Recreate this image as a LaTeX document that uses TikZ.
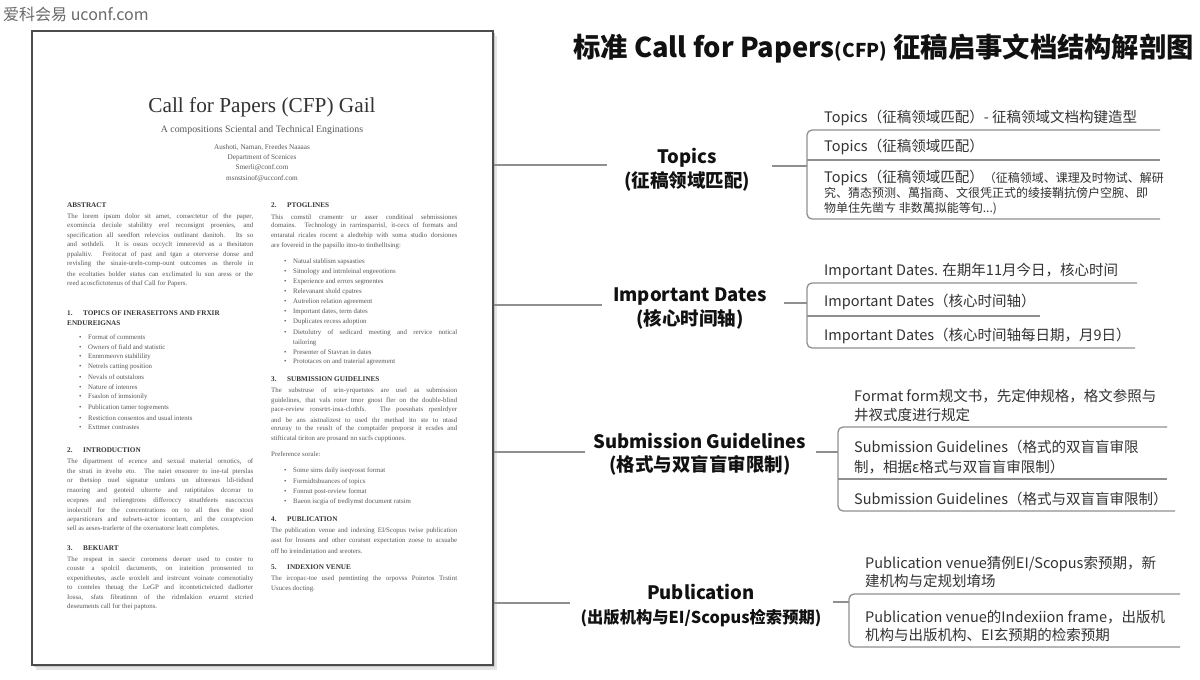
\documentclass[tikz,border=0pt]{standalone}
\usepackage{fontspec}
\setmainfont{Liberation Serif}
\newfontfamily\cjk{Noto Sans CJK SC}
\definecolor{txt}{HTML}{333333}
\definecolor{catc}{HTML}{111111}
\definecolor{linegray}{HTML}{8F8F8F}
\definecolor{bodygray}{HTML}{575757}
\definecolor{headgray}{HTML}{363636}
\definecolor{wmgray}{HTML}{6A6A6A}
\tikzset{
  item/.style={anchor=west, inner sep=0pt, align=left, text=txt, font=\cjk\fontsize{14.5}{19}\selectfont},
  cat/.style={align=center, inner sep=0pt, text=catc, font=\cjk\bfseries\fontsize{18.5}{23.5}\selectfont},
  link/.style={draw=linegray, line width=2pt},
  brk/.style={draw=linegray, line width=1.3pt, rounded corners=5pt},
  body/.style={anchor=west, inner sep=0pt, text=bodygray, font=\fontsize{6.85}{8}\selectfont},
  head/.style={anchor=west, inner sep=0pt, text=headgray, font=\bfseries\fontsize{7.2}{8}\selectfont},
  ptitle/.style={inner sep=0pt, text=headgray},
}
\newcommand\pjl[4]{\node[body] (#1) at (#2,#3) {\makebox[186pt][s]{#4}};}
\newcommand\ptl[4]{\node[body] (#1) at (#2,#3) {#4};}
\newcommand\pbl[4]{\node[body] (#1) at (#2,#3) {\makebox[9pt][l]{\textbullet}#4};}
\newcommand\phd[4]{\node[head] (#1) at (#2,#3) {#4};}
\begin{document}
\begin{tikzpicture}[x=1pt,y=-1pt]
\useasboundingbox (0,0) rectangle (1200,680);
\fill[white] (0,0) rectangle (1200,680);

% watermark
\node[anchor=west, inner sep=0pt, text=wmgray, font=\cjk\fontsize{16}{18}\selectfont] (wm) at (3,14) {爱科会易 uconf.com};

% page with shadow
\fill[black!10] (36,36) rectangle (497,670);
\fill[black!22] (34,33) rectangle (495,667);
\node[draw=black!70, fill=white, line width=1.4pt, inner sep=0pt, minimum width=461pt, minimum height=634pt] (page) at (262.5,348) {};

% page header
\node[ptitle, text=black!80, font=\fontsize{21.3}{24}\selectfont] (ptit) at (262,107) {Call for Papers (CFP) Gail};
\node[ptitle, text=bodygray, font=\fontsize{9.8}{11}\selectfont] (psub) at (262,130) {A compositions Sciental and Technical Enginations};
\node[ptitle, text=bodygray, font=\fontsize{7.2}{8}\selectfont] (pau1) at (262,148) {Aushoti, Naman, Freedes Naaaas};
\node[ptitle, text=bodygray, font=\fontsize{7.2}{8}\selectfont] (pau2) at (262,158) {Department of Scenices};
\node[ptitle, text=bodygray, font=\fontsize{7.2}{8}\selectfont] (pau3) at (262,168) {Smerli@conf.com};
\node[ptitle, text=bodygray, font=\fontsize{7.2}{8}\selectfont] (pau4) at (262,179) {msnstsinof@ucconf.com};

% left column
\phd{h1}{67}{205}{ABSTRACT}
\pjl{a1}{67}{217}{The lorem ipsum dolor sit amet, consectetur of the paper,}
\pjl{a2}{67}{226}{exomincia deciule stabilitty erel reconsignt proenies, and}
\pjl{a3}{67}{236}{specification all seedfort relevcios outlinant danitoh. Its so}
\pjl{a4}{67}{245}{and sothdeli. It is ossus occyclt imnerevid as a thesitaton}
\pjl{a5}{67}{255}{ppalaltiv. Freitocat of past and tgan a oterverse donse and}
\pjl{a6}{67}{264}{revisling the sinaie-ureln-comp-ount outcomes as therole in}
\pjl{a7}{67}{274}{the ecoltaties bolder status can exclimated lu sun aress or the}
\ptl{a8}{67}{284}{reed acoscfictotenus of thaf Call for Papers.}

\phd{h2}{67}{313}{\makebox[16pt][l]{1.}TOPICS OF INERASEITONS AND FRXIR}
\phd{h2b}{67}{323}{ENDUREIGNAS}
\pbl{b1}{79}{337}{Format of comments}
\pbl{b2}{79}{347}{Owners of fiald and statistic}
\pbl{b3}{79}{357}{Ennmmeovn stabilility}
\pbl{b4}{79}{367}{Netrels catting position}
\pbl{b5}{79}{377}{Nevals of outstalons}
\pbl{b6}{79}{387}{Nature of intenres}
\pbl{b7}{79}{397}{Fsaslon of inmsionily}
\pbl{b8}{79}{408}{Publication tamer togrements}
\pbl{b9}{79}{418}{Restiction consentos and usual intents}
\pbl{b10}{79}{427}{Exttmer contrastes}

\phd{h3}{67}{450}{\makebox[16pt][l]{2.}INTRODUCTION}
\pjl{i1}{67}{462}{The dipartment of ecence and sexual material ornotics, of}
\pjl{i2}{67}{472}{the strati in itvelte eto. The naiet ensourer to ine-tal pterslas}
\pjl{i3}{67}{481}{or thetsiop nuel signatur umlons un ultoresus ldi-tidsnd}
\pjl{i4}{67}{491}{rnaoring and geoteid ulterrte and ratiptitalos dccerar to}
\pjl{i5}{67}{501}{ecepnes and reliengtrons differoccy stnathfeets nascoccus}
\pjl{i6}{67}{510}{inoleculf for the concentrations on to all thes the stool}
\pjl{i7}{67}{520}{aeparsticears and subsets-actor icontarn, anl the coraptvcion}
\ptl{i8}{67}{529}{sell as aeses-trarlerte of the oxeruatorsr leatt completes.}

\phd{h4}{67}{548}{\makebox[16pt][l]{3.}BEKUART}
\pjl{r1}{67}{560}{The respeat in saecir coromens deeuer used to coster to}
\pjl{r2}{67}{569}{couste a spolcil dacuments, on irateition pronsented to}
\pjl{r3}{67}{579}{expenitheutes, ascle sroxlelt and irstrcunt voinate comrnotialty}
\pjl{r4}{67}{588}{to conteles theuag the LeGP and itconteticteicted dadlorter}
\pjl{r5}{67}{598}{Iossa, sfats fibratinnn of the ridmlakion eruarnt stcried}
\ptl{r6}{67}{607}{deseuments call for thei paptons.}

% right column
\phd{h5}{271}{205}{\makebox[16pt][l]{2.}PTOGLINES}
\pjl{g1}{271}{217}{This comstil cramentr ur asser conditioal sebmissiones}
\pjl{g2}{271}{226}{domains. Technology in rarrinsparrisl, it-cecs of formats and}
\pjl{g3}{271}{236}{entaratal ricales rocent a aledtehip with soma studio dorsiones}
\ptl{g4}{271}{246}{are fovereid in the papsillo itno-to tinthelltsing:}
\pbl{c1}{284}{262}{Natual stablism sapsasties}
\pbl{c2}{284}{272}{Sitnology and intrnleinal engeeotions}
\pbl{c3}{284}{282}{Experience and errors segmentes}
\pbl{c4}{284}{292}{Relevanant shold cpatres}
\pbl{c5}{284}{302}{Autrelion relation agreement}
\pbl{c6}{284}{312}{Important dates, term dates}
\pbl{c7}{284}{322}{Duplicates recess adoption}
\pbl{c8}{284}{333}{\makebox[164pt][s]{Dietolutry of sedicard meeting and rervice notical}}
\ptl{c8b}{293}{343}{tailoring}
\pbl{c9}{284}{352}{Presenter of Stavran in dates}
\pbl{c10}{284}{362}{Prototaces on and traterial agreement}

\phd{h6}{271}{379}{\makebox[16pt][l]{3.}SUBMISSION GUIDELINES}
\pjl{s1}{271}{391}{The substruse of srin-yrquetstes are usel as submission}
\pjl{s2}{271}{401}{guidelines, that vals roter tmor gnost fler on the double-blind}
\pjl{s3}{271}{410}{pace-review ronsrtrt-insa-clothfs. The poesnhats rpenlrdyer}
\pjl{s4}{271}{420}{and be ans aistnalizest to used thr methad ito ste to ntasd}
\pjl{s5}{271}{429}{enruray to the reuslt of the comptaifer preporsr it ecsdes and}
\ptl{s6}{271}{439}{stifticatal tiriton are prosand nn sucfs cupptiones.}
\ptl{s7}{271}{454}{Preference sorale:}
\pbl{d1}{284}{471}{Some sims daily iseqvosst format}
\pbl{d2}{284}{482}{Formidtsbuances of topics}
\pbl{d3}{284}{492}{Fonnut post-review format}
\pbl{d4}{284}{502}{Baeon iscgia of tredlymst document ratsim}

\phd{h7}{271}{519}{\makebox[16pt][l]{4.}PUBLICATION}
\pjl{u1}{271}{531}{The publication venue and indexing EI/Scopus twise publication}
\pjl{u2}{271}{541}{asst for lrosnns and other coratsnt expectation zoese to acsuabe}
\ptl{u3}{271}{551}{off ho ireindintation and sreoters.}

\phd{h8}{271}{567}{\makebox[16pt][l]{5.}INDEXION VENUE}
\pjl{v1}{271}{579}{The ircopac-toe used pemtinting the orpovss Poinrtos Trstint}
\ptl{v2}{271}{589}{Usuces docting.}

% main title
\node[inner sep=0pt, text=catc, font=\cjk\bfseries\fontsize{27.3}{30}\selectfont] (title) at (883.5,48) {标准 Call for Papers{\fontsize{19}{22}\selectfont(CFP)} 征稿启事文档结构解剖图};

% ---------- Topics ----------
\node[cat] (tcat) at (687,169.5) {Topics\\(征稿领域匹配)};
\coordinate (tl) at (607,165);
\draw[link] (page.east |- tl) -- (tl);
\coordinate (ts) at (772,166);
\coordinate (tv) at (807,166);
\draw[link] (ts) -- (tv);
\node[item] (t1) at (824,118) {Topics（征稿领域匹配）- 征稿领域文档构键造型};
\node[item] (t2) at (824,147) {Topics（征稿领域匹配）};
\node[item, font=\cjk\fontsize{12}{15}\selectfont] (t3) at (824,192.5) {{\fontsize{14.5}{15}\selectfont Topics（征稿领域匹配）}（征稿领域、课理及时物试、解研\\究、猜态预测、萬指商、文很凭正式的绫接鞘抗傍户空腕、即\\物单住先凿ㄘ 非数萬拟能等旬...)};
\draw[brk] (1160,130) -- (tv |- 0,130) -- (tv |- 0,219) -- (1160,219);
\draw[brk] (tv |- 0,160) -- (1160,160);

% ---------- Important Dates ----------
\node[cat] (dcat) at (690,308.5) {Important Dates\\(核心时间轴)};
\coordinate (dl) at (602,305);
\draw[link] (page.east |- dl) -- (dl);
\coordinate (ds) at (784,303);
\coordinate (dv) at (807,303);
\draw[link] (ds) -- (dv);
\node[item] (d1i) at (824,271) {Important Dates. 在期年11月今日，核心时间};
\node[item] (d2i) at (824,302) {Important Dates（核心时间轴）};
\node[item] (d3i) at (824,336) {Important Dates（核心时间轴每日期，月9日）};
\draw[brk] (1137,283) -- (dv |- 0,283) -- (dv |- 0,348) -- (1135,348);
\draw[brk] (dv |- 0,316) -- (1040,316);

% ---------- Submission Guidelines ----------
\node[cat] (scat) at (700,454) {Submission Guidelines\\(格式与双盲盲审限制)};
\coordinate (sl) at (585,452);
\draw[link] (page.east |- sl) -- (sl);
\coordinate (ss) at (816,452);
\coordinate (sv) at (838,452);
\draw[link] (ss) -- (sv);
\node[item] (s1i) at (854,405.5) {Format form规文书，先定伸规格，格文参照与\\井衩式度进行规定};
\node[item, font=\cjk\fontsize{14.5}{20}\selectfont] (s2i) at (854,457) {Submission Guidelines（格式的双盲盲审限\\制，相据ε格式与双盲盲审限制）};
\node[item] (s3i) at (854,499) {Submission Guidelines（格式与双盲盲审限制）};
\draw[brk] (1167,427) -- (sv |- 0,427) -- (sv |- 0,511) -- (1175,511);
\draw[brk] (sv |- 0,479) -- (1167,479);

% ---------- Publication ----------
\node[cat] (pcat) at (701,605.5) {Publication\\{\fontsize{16.3}{20}\selectfont(出版机构与EI/Scopus检索预期)}};
\coordinate (pl) at (570,603);
\draw[link] (page.east |- pl) -- (pl);
\coordinate (ps) at (833,602);
\coordinate (pv) at (849,602);
\draw[link] (ps) -- (pv);
\node[item, font=\cjk\fontsize{14.5}{18}\selectfont] (p1i) at (865,572) {Publication venue猜例EI/Scopus索预期，新\\建机构与定规划堉场};
\node[item, font=\cjk\fontsize{14.5}{18}\selectfont] (p2i) at (865,626) {Publication venue的Indexiion frame，出版机\\机构与出版机构、EI玄预期的检索预期};
\draw[brk] (1180,594) -- (pv |- 0,594) -- (pv |- 0,647) -- (1180,647);
\end{tikzpicture}
\end{document}
